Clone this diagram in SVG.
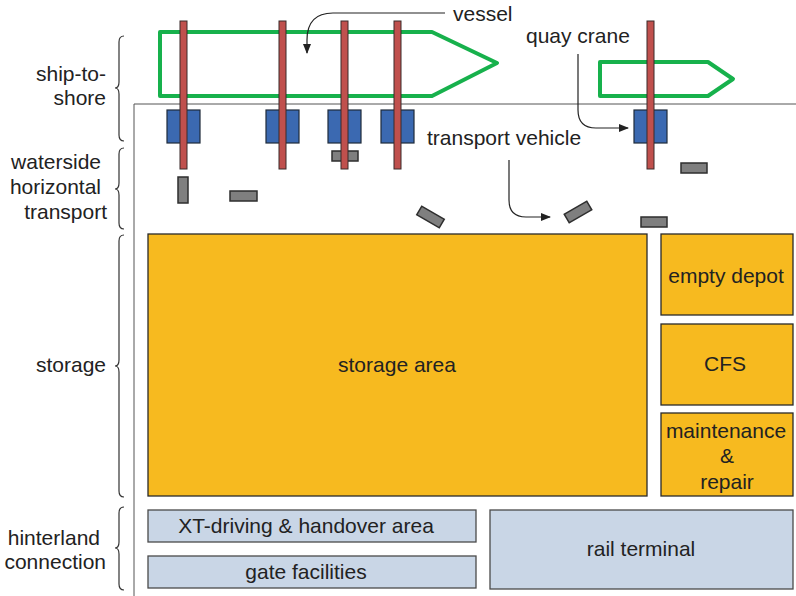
<svg xmlns="http://www.w3.org/2000/svg" width="796" height="596" viewBox="0 0 796 596">
  <defs>
    <marker id="arrow" viewBox="0 0 10 10" refX="9" refY="5" markerWidth="10" markerHeight="10" markerUnits="userSpaceOnUse" orient="auto">
      <path d="M0,1 L10,5 L0,9 Z" fill="#222"/>
    </marker>
    <style>
      text { font-family: "Liberation Sans", Arial, Helvetica, sans-serif; font-size: 21px; fill: #222; }
      .mid { text-anchor: middle; }
      .end { text-anchor: end; }
      .vessel { fill: none; stroke: #17b14c; stroke-width: 4; stroke-linejoin: round; }
      .crane { fill: #c0504d; stroke: #3a2a2a; stroke-width: 1; }
      .spreader { fill: #3b69b1; stroke: #1e2a3a; stroke-width: 1.2; }
      .vehicle { fill: #7f7f7f; stroke: #2e2e2e; stroke-width: 1.5; }
      .yard { fill: #f7ba1f; stroke: #2a2a2a; stroke-width: 1.3; }
      .land { fill: #c9d6e6; stroke: #4a4a4a; stroke-width: 1.3; }
      .brace { fill: none; stroke: #333; stroke-width: 1.2; }
      .edge { fill: none; stroke: #555; stroke-width: 1; }
      .conn { fill: none; stroke: #222; stroke-width: 1.2; }
    </style>
  </defs>

  <!-- terminal boundary (quay wall and landside edge) -->
  <path class="edge" d="M134,596 L134,104 L796,104"/>

  <!-- area labels with braces -->
  <g id="label-ship-to-shore">
    <text class="end" x="106" y="81">ship-to-</text>
    <text class="end" x="106" y="105">shore</text>
    <path class="brace" d="M124,36 Q119,36 119,42 L119,82 Q119,88 115,88 Q119,88 119,94 L119,135 Q119,141 124,141"/>
  </g>
  <g id="label-waterside">
    <text class="end" x="101" y="169">waterside</text>
    <text class="end" x="101" y="194">horizontal</text>
    <text class="end" x="107" y="219">transport</text>
    <path class="brace" d="M124,148 Q119,148 119,154 L119,183 Q119,189 115,189 Q119,189 119,195 L119,223 Q119,229 124,229"/>
  </g>
  <g id="label-storage">
    <text class="end" x="106" y="372">storage</text>
    <path class="brace" d="M124,235 Q119,235 119,241 L119,360 Q119,366 115,366 Q119,366 119,372 L119,491 Q119,497 124,497"/>
  </g>
  <g id="label-hinterland">
    <text class="end" x="100" y="545">hinterland</text>
    <text class="end" x="106" y="569">connection</text>
    <path class="brace" d="M124,507 Q119,507 119,513 L119,542 Q119,548 115,548 Q119,548 119,554 L119,584 Q119,590 124,590"/>
  </g>

  <!-- vessels -->
  <g id="vessel-1">
    <polygon class="vessel" points="160,32 432,32 497,63 432,96 160,96"/>
  </g>
  <g id="vessel-2">
    <polygon class="vessel" points="600,62 708,62 733,79 708,96 600,96"/>
  </g>

  <!-- transport vehicles -->
  <g id="vehicle-1"><rect class="vehicle" x="332" y="151" width="26" height="10"/></g>
  <g id="vehicle-2"><rect class="vehicle" x="178" y="177" width="10" height="26"/></g>
  <g id="vehicle-3"><rect class="vehicle" x="230" y="191" width="27" height="10"/></g>
  <g id="vehicle-4"><rect class="vehicle" x="417.5" y="212" width="26" height="10" transform="rotate(30 430.5 217)"/></g>
  <g id="vehicle-5"><rect class="vehicle" x="565" y="207" width="26" height="10" transform="rotate(-30 578 212)"/></g>
  <g id="vehicle-6"><rect class="vehicle" x="681" y="163" width="26" height="10"/></g>
  <g id="vehicle-7"><rect class="vehicle" x="641" y="217" width="26" height="10"/></g>

  <!-- quay cranes: spreader/trolley box with boom -->
  <g id="crane-1">
    <rect class="spreader" x="167" y="110" width="33" height="33"/>
    <rect class="crane" x="180" y="21" width="7" height="148"/>
  </g>
  <g id="crane-2">
    <rect class="spreader" x="266" y="110" width="33" height="33"/>
    <rect class="crane" x="279" y="21" width="7" height="148"/>
  </g>
  <g id="crane-3">
    <rect class="spreader" x="328" y="110" width="33" height="33"/>
    <rect class="crane" x="341" y="21" width="7" height="148"/>
  </g>
  <g id="crane-4">
    <rect class="spreader" x="381" y="110" width="33" height="33"/>
    <rect class="crane" x="394" y="21" width="7" height="148"/>
  </g>
  <g id="crane-5">
    <rect class="spreader" x="634" y="110" width="33" height="33"/>
    <rect class="crane" x="647" y="21" width="7" height="148"/>
  </g>

  <!-- yard areas -->
  <g id="storage-area">
    <rect class="yard" x="148" y="234" width="499" height="262"/>
    <text class="mid" x="397" y="372">storage area</text>
  </g>
  <g id="empty-depot">
    <rect class="yard" x="661" y="234" width="132" height="81"/>
    <text class="mid" x="726" y="283">empty depot</text>
  </g>
  <g id="cfs">
    <rect class="yard" x="661" y="324" width="132" height="81"/>
    <text class="mid" x="725" y="371">CFS</text>
  </g>
  <g id="maintenance">
    <rect class="yard" x="661" y="413" width="132" height="83"/>
    <text class="mid" x="726" y="438">maintenance</text>
    <text class="mid" x="727" y="463">&amp;</text>
    <text class="mid" x="727" y="489">repair</text>
  </g>

  <!-- hinterland areas -->
  <g id="xt-area">
    <rect class="land" x="148" y="510" width="328" height="32"/>
    <text class="mid" x="306" y="533">XT-driving &amp; handover area</text>
  </g>
  <g id="gate">
    <rect class="land" x="148" y="556" width="328" height="32"/>
    <text class="mid" x="306" y="579">gate facilities</text>
  </g>
  <g id="rail-terminal">
    <rect class="land" x="490" y="510" width="303" height="79"/>
    <text class="mid" x="641" y="556">rail terminal</text>
  </g>

  <!-- callouts -->
  <g id="callouts">
    <text x="453" y="21">vessel</text>
    <text x="526" y="43">quay crane</text>
    <text x="427" y="145">transport vehicle</text>
    <path class="conn" marker-end="url(#arrow)" d="M445,13 L333,13 Q307,13 307,40 L307,53"/>
    <path class="conn" marker-end="url(#arrow)" d="M578,54 L578,110 Q578,128 596,128 L628,128"/>
    <path class="conn" marker-end="url(#arrow)" d="M509,160 L509,200 Q509,217 526,217 L550,217"/>
  </g>
</svg>
